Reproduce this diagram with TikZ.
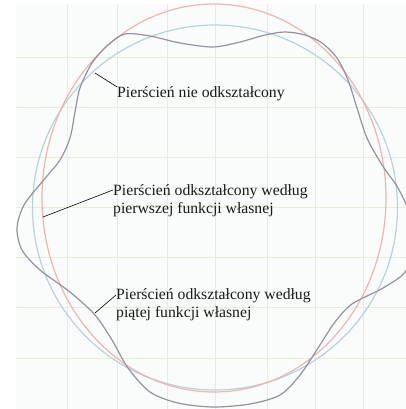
\documentclass[tikz,border=0pt]{standalone}
\usepackage{fontspec}
\setmainfont{Liberation Serif}
\usepackage{xcolor}
\usepackage{tikz}
\definecolor{panelbg}{RGB}{250,252,251}
\definecolor{gridcol}{RGB}{232,238,214}
\definecolor{ringred}{RGB}{238,180,180}
\definecolor{ringblue}{RGB}{180,212,218}
\definecolor{ringgray}{RGB}{148,146,160}

\begin{document}
\begin{tikzpicture}[x=1pt,y=-1pt,
  ring/.style={line width=1.2pt},
  ringtext/.style={inner sep=0pt,align=left,text=black!90,font=\fontsize{15.7}{18.5}\selectfont},
  leader/.style={black,line width=0.6pt}]
\useasboundingbox (0,0) rectangle (406,409);
\fill[panelbg] (16,4) rectangle (406,409);
\begin{scope}
\clip (16,4) rectangle (406,409);
\foreach \gx in {67,117,167,215,267,315,363}
  \draw[gridcol,line width=0.9pt] (\gx,4) -- (\gx,409);
\foreach \gy in {57,107,157,207,257,307,358}
  \draw[gridcol,line width=0.9pt] (16,\gy) -- (406,\gy);
\draw[ring,ringblue] (215,207.5) circle [radius=182.5pt];
\draw[ring,ringred] (214,198) ellipse [x radius=172pt, y radius=194pt];
\draw[ring,ringgray] plot[smooth cycle] coordinates {
  (213,47) (240,42) (265,35) (285,32) (305,35) (322,43) (337,58) (348,80)
  (357,108) (367,138) (382,165) (398,188) (410,215) (413,245) (405,272)
  (383,288) (352,304) (335,322) (318,348) (300,375) (280,395) (250,404)
  (213,407) (178,403) (150,392) (128,368) (112,340) (95,315) (70,292)
  (40,270) (22,250) (17,228) (24,205) (42,182) (60,160) (70,138) (75,112)
  (80,88) (92,63) (108,45) (125,34) (150,36) (180,43)};
\end{scope}
\node[ringtext,anchor=base west] (nieodk) at (117,98) {Pierścień nie odkształcony};
\node[ringtext,anchor=north west] (pierwsza) at (113,184) {Pierścień odkształcony według\\pierwszej funkcji własnej};
\node[ringtext,anchor=north west] (piata) at (116,288) {Pierścień odkształcony według\\piątej funkcji własnej};
\coordinate (c1) at (95,73);
\coordinate (c2) at (43,217);
\coordinate (c3) at (95,313);
\draw[leader] (c1) -- (nieodk.north west);
\draw[leader] (c2) -- ([yshift=-6pt]pierwsza.north west);
\draw[leader] (c3) -- ([yshift=-7pt]piata.north west);
\end{tikzpicture}
\end{document}
